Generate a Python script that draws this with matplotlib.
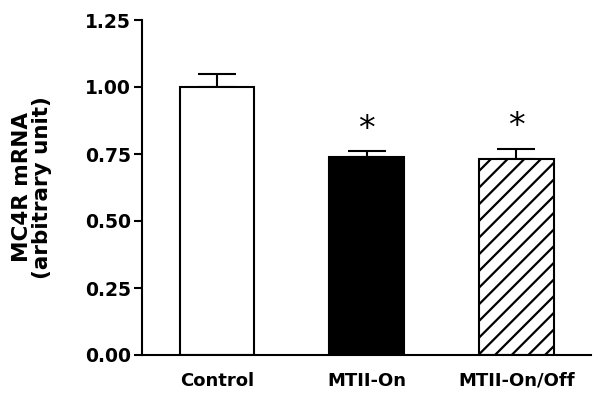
import matplotlib
matplotlib.use("Agg")
import matplotlib.pyplot as plt
import numpy as np

categories = ["Control", "MTII-On", "MTII-On/Off"]
values = [1.00, 0.74, 0.73]
errors = [0.05, 0.02, 0.04]
significant = [False, True, True]
yticks = [0.00, 0.25, 0.50, 0.75, 1.00, 1.25]

plt.rcParams['hatch.linewidth'] = 1.6
fig = plt.figure(figsize=(6, 4), dpi=100)
ax = fig.add_axes([0.237, 0.1125, 0.748, 0.8375])

x = np.arange(len(categories))
faces = ["white", "black", "white"]
hatches = [None, None, "//"]
for xi, v, e, fc, h in zip(x, values, errors, faces, hatches):
    ax.bar(xi, v, width=0.5, color=fc, edgecolor="black", linewidth=1.5, hatch=h, zorder=2)
    ax.errorbar(xi, v, yerr=[[0], [e]], fmt="none", ecolor="black", elinewidth=1.5,
                capsize=13.5, capthick=1.5, zorder=1)

for xi, v, e, s in zip(x, values, errors, significant):
    if s:
        ax.text(xi, v + e + 0.02, "*", ha="center", va="bottom", fontsize=24)

ax.set_xlim(-0.5, 2.5)
ax.set_ylim(0, 1.25)
ax.set_yticks(yticks)
ax.set_yticklabels([f"{t:.2f}" for t in yticks], fontsize=13.5, fontweight="bold")
ax.set_xticks(x)
ax.set_xticklabels(categories, fontsize=13, fontweight="bold")
ax.tick_params(axis="x", length=0, pad=12)
ax.tick_params(axis="y", length=6, width=1.5, direction="out", pad=2)
for sp in ["top", "right"]:
    ax.spines[sp].set_visible(False)
for sp in ["left", "bottom"]:
    ax.spines[sp].set_linewidth(1.5)
ax.set_ylabel("MC4R mRNA\n(arbitrary unit)", fontsize=15.5, fontweight="bold", labelpad=24,
              linespacing=1.0)

fig.savefig("out.png", dpi=100)
